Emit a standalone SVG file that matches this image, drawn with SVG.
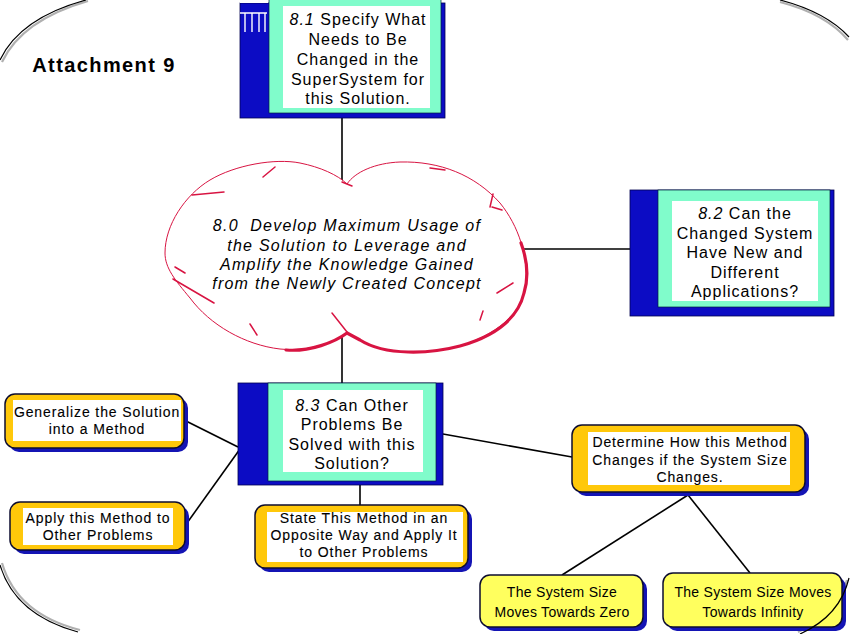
<svg xmlns="http://www.w3.org/2000/svg" width="850" height="634" viewBox="0 0 850 634">
<style>
.bg{fill:#fff}
.blue{fill:#0c0cc4;stroke:#000050;stroke-width:0.8}
.green{fill:#80fccb;stroke:#002040;stroke-width:0.7}
.white{fill:#fff}
.t{font-family:"Liberation Sans",Arial,sans-serif;text-anchor:middle;fill:#000}
.bt{font-size:16px;letter-spacing:1px}
.ct{font-size:16px;letter-spacing:1.25px;font-style:italic}
.it{font-style:italic}
.yt{font-size:14px;letter-spacing:0.9px;stroke:#000;stroke-width:0.12}
.lt{font-size:14px;letter-spacing:0.3px}
.ybox{fill:#ffc80a;stroke:#0c0c30;stroke-width:1.5}
.lbox{fill:#ffff5e;stroke:#0c0c30;stroke-width:1.5}
.ysh{fill:#1414b4}
.conn line{stroke:#000;stroke-width:1.6}
.edge-g{fill:none;stroke:#b0b0b0;stroke-width:2.2}
.edge-k{fill:none;stroke:#000;stroke-width:1.2}
.cl{fill:#fff;stroke:#d81442;stroke-width:1}
.clk{fill:none;stroke:#d81442;stroke-width:3.2;stroke-linecap:round}
.tick{fill:none;stroke:#d81442;stroke-width:1.5;stroke-linecap:round}
</style>
<rect class="bg" x="0" y="0" width="850" height="634"/>

<g id="page-border">
<path class="edge-g" d="M88,1 Q22,20 2,62"/>
<path class="edge-k" d="M86,0 Q20,18 0,60"/>
<path class="edge-g" d="M780,2 Q826,14 848,40"/>
<path class="edge-k" d="M780,0 Q826,12 849,37"/>
<path class="edge-g" d="M2,563 Q17,614 80,630"/>
<path class="edge-k" d="M0,565 Q15,615 78,632"/>
<path class="edge-g" d="M847,580 Q838,614 798,632"/>
</g>

<text class="t" x="104" y="72" style="font-size:20px;font-weight:bold;letter-spacing:1.4px">Attachment 9</text>

<g id="connectors" class="conn">
<line x1="342" y1="118" x2="342" y2="182"/>
<line x1="520" y1="249" x2="630" y2="249"/>
<line x1="342" y1="332" x2="342" y2="383"/>
<line x1="360" y1="485" x2="360" y2="505"/>
<line x1="184" y1="420" x2="238" y2="447"/>
<line x1="187" y1="523" x2="240" y2="449"/>
<line x1="443" y1="434" x2="572" y2="457"/>
<line x1="688" y1="495" x2="562" y2="575"/>
<line x1="688" y1="495" x2="750" y2="573"/>
</g>

<g id="node-8-1">
<rect class="blue" x="240" y="3" width="205" height="115"/>
<rect x="240" y="0" width="28" height="3" fill="#fff"/>
<path d="M240,13 H267 M245,13 V32 M252,13 V32 M259,13 V32 M265,13 V32" stroke="#fff" stroke-width="1.4" fill="none"/>
<rect class="green" x="269" y="-2" width="172" height="115"/>
<rect class="white" x="283" y="6" width="147" height="102"/>
<text class="t bt" x="358" y="25"><tspan class="it">8.1</tspan> Specify What</text>
<text class="t bt" x="358" y="45">Needs to Be</text>
<text class="t bt" x="358" y="65">Changed in the</text>
<text class="t bt" x="358" y="85">SuperSystem for</text>
<text class="t bt" x="358" y="104">this Solution.</text>
</g>

<g id="node-8-0">
<path class="cl" d="M165,253 C165,225 185,195 210,180 C235,165 275,158 300,163 C320,167 338,175 347,184 C355,172 375,163 400,162 C440,161 475,175 500,203 C518,225 530,258 525,290 C520,315 495,335 460,346 C430,354 385,356 360,340 L347,333 C335,342 310,352 280,349 C245,345 210,325 190,298 C175,280 165,268 165,253 Z"/>
<path class="clk" d="M521,243 C528,262 528,280 524,293 C518,318 495,336 460,346 C430,354 385,356 360,340 L347,333 C335,342 310,352 286,350"/>
<path class="tick" d="M263,177 L275,167 M342,182 L352,186 M192,195 L224,192 M175,267 L185,273 M173,279 L214,303 M250,324 L257,335 M332,313 L347,332 M483,311 L480,320 M497,293 L513,283 M490,207 L493,194 M492,207 L502,210 M430,168 L445,170"/>
<text class="t ct" x="347" y="231" style="white-space:pre">8.0  Develop Maximum Usage of</text>
<text class="t ct" x="347" y="251">the Solution to Leverage and</text>
<text class="t ct" x="347" y="270">Amplify the Knowledge Gained</text>
<text class="t ct" x="347" y="289">from the Newly Created Concept</text>
</g>

<g id="node-8-2">
<rect class="blue" x="630" y="190" width="204" height="126"/>
<rect class="green" x="658" y="190" width="172" height="117"/>
<rect class="white" x="672" y="201" width="146" height="100"/>
<text class="t bt" x="745" y="219"><tspan class="it">8.2</tspan> Can the</text>
<text class="t bt" x="745" y="239">Changed System</text>
<text class="t bt" x="745" y="258">Have New and</text>
<text class="t bt" x="745" y="278">Different</text>
<text class="t bt" x="745" y="297">Applications?</text>
</g>

<g id="node-8-3">
<rect class="blue" x="238" y="383" width="205" height="102"/>
<rect class="green" x="268" y="383" width="168" height="98"/>
<rect class="white" x="283" y="390" width="140" height="82"/>
<text class="t bt" x="352" y="411"><tspan class="it">8.3</tspan> Can Other</text>
<text class="t bt" x="352" y="430">Problems Be</text>
<text class="t bt" x="352" y="450">Solved with this</text>
<text class="t bt" x="352" y="469">Solution?</text>
</g>

<g id="node-generalize">
<rect class="ysh" x="9" y="398" width="179" height="54" rx="10"/>
<rect class="ybox" x="5" y="394" width="179" height="54" rx="10"/>
<rect class="white" x="13" y="400" width="168" height="41"/>
<text class="t yt" x="97" y="417">Generalize the Solution</text>
<text class="t yt" x="97" y="434">into a Method</text>
</g>

<g id="node-apply">
<rect class="ysh" x="14" y="506" width="175" height="48" rx="10"/>
<rect class="ybox" x="10" y="502" width="175" height="48" rx="10"/>
<rect class="white" x="23" y="508" width="150" height="37"/>
<text class="t yt" x="98" y="523">Apply this Method to</text>
<text class="t yt" x="98" y="540">Other Problems</text>
</g>

<g id="node-opposite">
<rect class="ysh" x="259" y="509" width="213" height="63" rx="10"/>
<rect class="ybox" x="255" y="505" width="213" height="63" rx="10"/>
<rect class="white" x="267" y="512" width="196" height="50"/>
<text class="t yt" x="364" y="523">State This Method in an</text>
<text class="t yt" x="364" y="540">Opposite Way and Apply It</text>
<text class="t yt" x="364" y="557">to Other Problems</text>
</g>

<g id="node-size">
<rect class="ysh" x="576" y="429" width="233" height="67" rx="10"/>
<rect class="ybox" x="572" y="425" width="233" height="67" rx="10"/>
<rect class="white" x="588" y="432" width="202" height="53"/>
<text class="t yt" x="690" y="447">Determine How this Method</text>
<text class="t yt" x="690" y="465">Changes if the System Size</text>
<text class="t yt" x="690" y="482">Changes.</text>
</g>

<g id="node-zero">
<rect class="ysh" x="484" y="579" width="163" height="52" rx="10"/>
<rect class="lbox" x="480" y="575" width="163" height="52" rx="10"/>
<text class="t lt" x="562" y="597">The System Size</text>
<text class="t lt" x="562" y="617">Moves Towards Zero</text>
</g>

<g id="node-infinity">
<rect class="ysh" x="667" y="577" width="179" height="54" rx="10"/>
<rect class="lbox" x="663" y="573" width="179" height="54" rx="10"/>
<text class="t lt" x="753" y="597">The System Size Moves</text>
<text class="t lt" x="753" y="617">Towards Infinity</text>
</g>

<path class="edge-k" d="M849,578 Q840,616 800,634"/>
</svg>
